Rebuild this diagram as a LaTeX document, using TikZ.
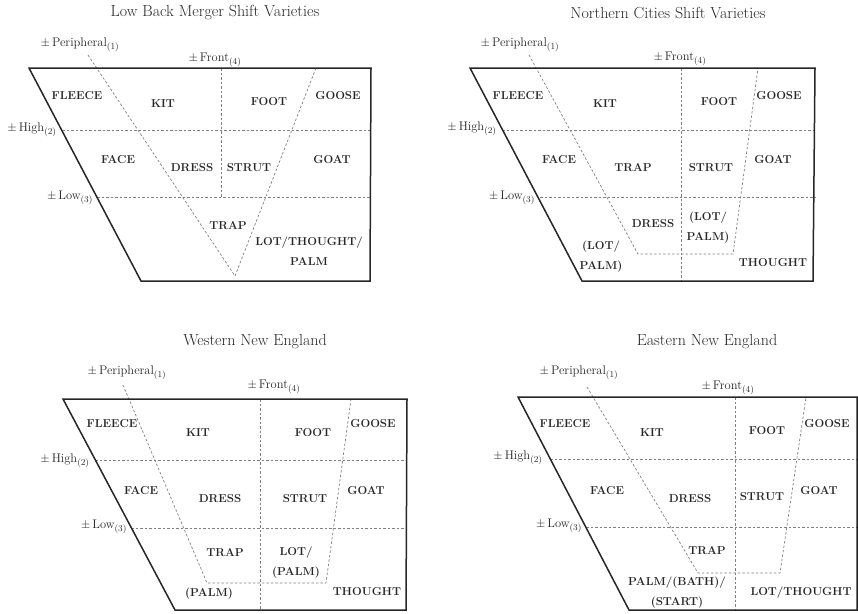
\documentclass[tikz,border=0pt]{standalone}
\usetikzlibrary{calc}
\begin{document}
\begin{tikzpicture}[x=1pt, y=-1pt,
    frame/.style={line width=1.5pt, black!85},
    split/.style={gray, line width=0.7pt, dash pattern=on 2.5pt off 2pt},
    vowel/.style={font=\fontsize{11.5}{20}\selectfont\bfseries, align=center, text=black!85, inner sep=0pt},
    feat/.style={font=\fontsize{12.5}{14}\selectfont, text=black!85, inner sep=0pt},
    ttl/.style={font=\fontsize{16}{18}\selectfont, text=black!85, inner sep=0pt}]

    \useasboundingbox (0,0) rectangle (858,613);

    % Low Back Merger Shift
    \node[ttl] (t1) at (215,13) {Low Back Merger Shift Varieties};
    \coordinate (a1) at (29,68);
    \coordinate (b1) at (371,68);
    \coordinate (c1) at (370,281);
    \coordinate (d1) at (141,281);
    \coordinate (h1) at (62,130);
    \coordinate (l1) at (97,197);
    \coordinate (p1) at (88,55);
    \coordinate (v1) at (235,276);
    \coordinate (g1) at (316,68);
    \coordinate (f1) at (221,68);

    \draw[split] (h1) -- (h1 -| b1);
    \draw[split] (l1) -- (l1 -| b1);
    \draw[split] (p1) -- (v1) -- (g1);
    \draw[split] (f1) -- (f1 |- l1);
    \draw[frame] (a1) -- (b1) -- (c1) -- (d1) -- cycle;

    \node[feat] (per1) at (80,45) {$\pm\,$Peripheral$_{(1)}$};
    \node[feat] (fr1) at (215,60) {$\pm\,$Front$_{(4)}$};
    \node[feat] (hi1) at (32,130) {$\pm\,$High$_{(2)}$};
    \node[feat] (lo1) at (70,198) {$\pm\,$Low$_{(3)}$};

    \node[vowel] (fleece1) at (77,96) {FLEECE};
    \node[vowel] (kit1) at (163,104) {KIT};
    \node[vowel] (foot1) at (269,102) {FOOT};
    \node[vowel] (goose1) at (338,96) {GOOSE};
    \node[vowel] (face1) at (118,160) {FACE};
    \node[vowel] (dress1) at (192,168) {DRESS};
    \node[vowel] (strut1) at (249,168) {STRUT};
    \node[vowel] (goat1) at (332,160) {GOAT};
    \node[vowel] (trap1) at (228,226) {TRAP};
    \node[vowel] (lot1) at (309,251) {LOT/THOUGHT/\\PALM};

    % Northern Cities Shift
    \node[ttl] (t2) at (668,13) {Northern Cities Shift Varieties};
    \coordinate (a2) at (470,68);
    \coordinate (b2) at (815,68);
    \coordinate (c2) at (813,281);
    \coordinate (d2) at (582,281);
    \coordinate (h2) at (502,130);
    \coordinate (l2) at (540,197);
    \coordinate (p2) at (529,55);
    \coordinate (q2) at (638,254);
    \coordinate (r2) at (733,254);
    \coordinate (g2) at (758,68);
    \coordinate (f2) at (681,68);

    \draw[split] (h2) -- (h2 -| b2);
    \draw[split] (l2) -- (l2 -| b2);
    \draw[split] (p2) -- (q2) -- (r2) -- (g2);
    \draw[split] (f2) -- (f2 |- d2);
    \draw[frame] (a2) -- (b2) -- (c2) -- (d2) -- cycle;

    \node[feat] (per2) at (520,45) {$\pm\,$Peripheral$_{(1)}$};
    \node[feat] (fr2) at (680,59) {$\pm\,$Front$_{(4)}$};
    \node[feat] (hi2) at (472,129) {$\pm\,$High$_{(2)}$};
    \node[feat] (lo2) at (512,198) {$\pm\,$Low$_{(3)}$};

    \node[vowel] (fleece2) at (518,96) {FLEECE};
    \node[vowel] (kit2) at (605,104) {KIT};
    \node[vowel] (foot2) at (719,102) {FOOT};
    \node[vowel] (goose2) at (779,96) {GOOSE};
    \node[vowel] (face2) at (559,160) {FACE};
    \node[vowel] (trap2) at (633,168) {TRAP};
    \node[vowel] (strut2) at (711,168) {STRUT};
    \node[vowel] (goat2) at (773,160) {GOAT};
    \node[vowel] (dress2) at (653,224) {DRESS};
    \node[vowel] (lotb2) at (708,228) {(LOT/\\PALM)};
    \node[vowel] (lotf2) at (601,257) {(LOT/\\PALM)};
    \node[vowel] (thought2) at (773,263) {THOUGHT};

    % Western New England
    \node[ttl] (t3) at (255,342) {Western New England};
    \coordinate (a3) at (63,399);
    \coordinate (b3) at (407,399);
    \coordinate (c3) at (406,610);
    \coordinate (d3) at (175,610);
    \coordinate (h3) at (95,460);
    \coordinate (l3) at (131,528);
    \coordinate (p3) at (123,385);
    \coordinate (q3) at (207,583);
    \coordinate (r3) at (326,583);
    \coordinate (g3) at (351,399);
    \coordinate (f3) at (260,399);

    \draw[split] (h3) -- (h3 -| b3);
    \draw[split] (l3) -- (l3 -| b3);
    \draw[split] (p3) -- (q3) -- (r3) -- (g3);
    \draw[split] (f3) -- (f3 |- d3);
    \draw[frame] (a3) -- (b3) -- (c3) -- (d3) -- cycle;

    \node[feat] (per3) at (127,373) {$\pm\,$Peripheral$_{(1)}$};
    \node[feat] (fr3) at (274,387) {$\pm\,$Front$_{(4)}$};
    \node[feat] (hi3) at (65,461) {$\pm\,$High$_{(2)}$};
    \node[feat] (lo3) at (104,527) {$\pm\,$Low$_{(3)}$};

    \node[vowel] (fleece3) at (112,424) {FLEECE};
    \node[vowel] (kit3) at (198,433) {KIT};
    \node[vowel] (foot3) at (313,433) {FOOT};
    \node[vowel] (goose3) at (373,424) {GOOSE};
    \node[vowel] (face3) at (141,491) {FACE};
    \node[vowel] (dress3) at (220,499) {DRESS};
    \node[vowel] (strut3) at (305,499) {STRUT};
    \node[vowel] (goat3) at (366,491) {GOAT};
    \node[vowel] (trap3) at (225,553) {TRAP};
    \node[vowel] (lot3) at (296,563) {LOT/\\(PALM)};
    \node[vowel] (palm3) at (209,594) {(PALM)};
    \node[vowel] (thought3) at (367,592) {THOUGHT};

    % Eastern New England
    \node[ttl] (t4) at (707,342) {Eastern New England};
    \coordinate (a4) at (518,397);
    \coordinate (b4) at (857,397);
    \coordinate (c4) at (857,610);
    \coordinate (d4) at (629,610);
    \coordinate (h4) at (550,459);
    \coordinate (l4) at (586,527);
    \coordinate (p4) at (587,387);
    \coordinate (q4) at (698,573);
    \coordinate (r4) at (780,573);
    \coordinate (g4) at (806,397);
    \coordinate (f4) at (735,397);

    \draw[split] (h4) -- (h4 -| b4);
    \draw[split] (l4) -- (l4 -| b4);
    \draw[split] (p4) -- (q4) -- (r4) -- (g4);
    \draw[split] (f4) -- (f4 |- d4);
    \draw[frame] (a4) -- (b4) -- (c4) -- (d4) -- cycle;

    \node[feat] (per4) at (579,373) {$\pm\,$Peripheral$_{(1)}$};
    \node[feat] (fr4) at (728,388) {$\pm\,$Front$_{(4)}$};
    \node[feat] (hi4) at (518,458) {$\pm\,$High$_{(2)}$};
    \node[feat] (lo4) at (559,526) {$\pm\,$Low$_{(3)}$};

    \node[vowel] (fleece4) at (565,424) {FLEECE};
    \node[vowel] (kit4) at (652,433) {KIT};
    \node[vowel] (foot4) at (767,431) {FOOT};
    \node[vowel] (goose4) at (827,424) {GOOSE};
    \node[vowel] (face4) at (607,491) {FACE};
    \node[vowel] (dress4) at (690,499) {DRESS};
    \node[vowel] (strut4) at (762,497) {STRUT};
    \node[vowel] (goat4) at (819,491) {GOAT};
    \node[vowel] (trap4) at (707,551) {TRAP};
    \node[vowel] (palm4) at (677,593) {PALM/(BATH)/\\(START)};
    \node[vowel] (lot4) at (801,593) {LOT/THOUGHT};

\end{tikzpicture}
\end{document}
